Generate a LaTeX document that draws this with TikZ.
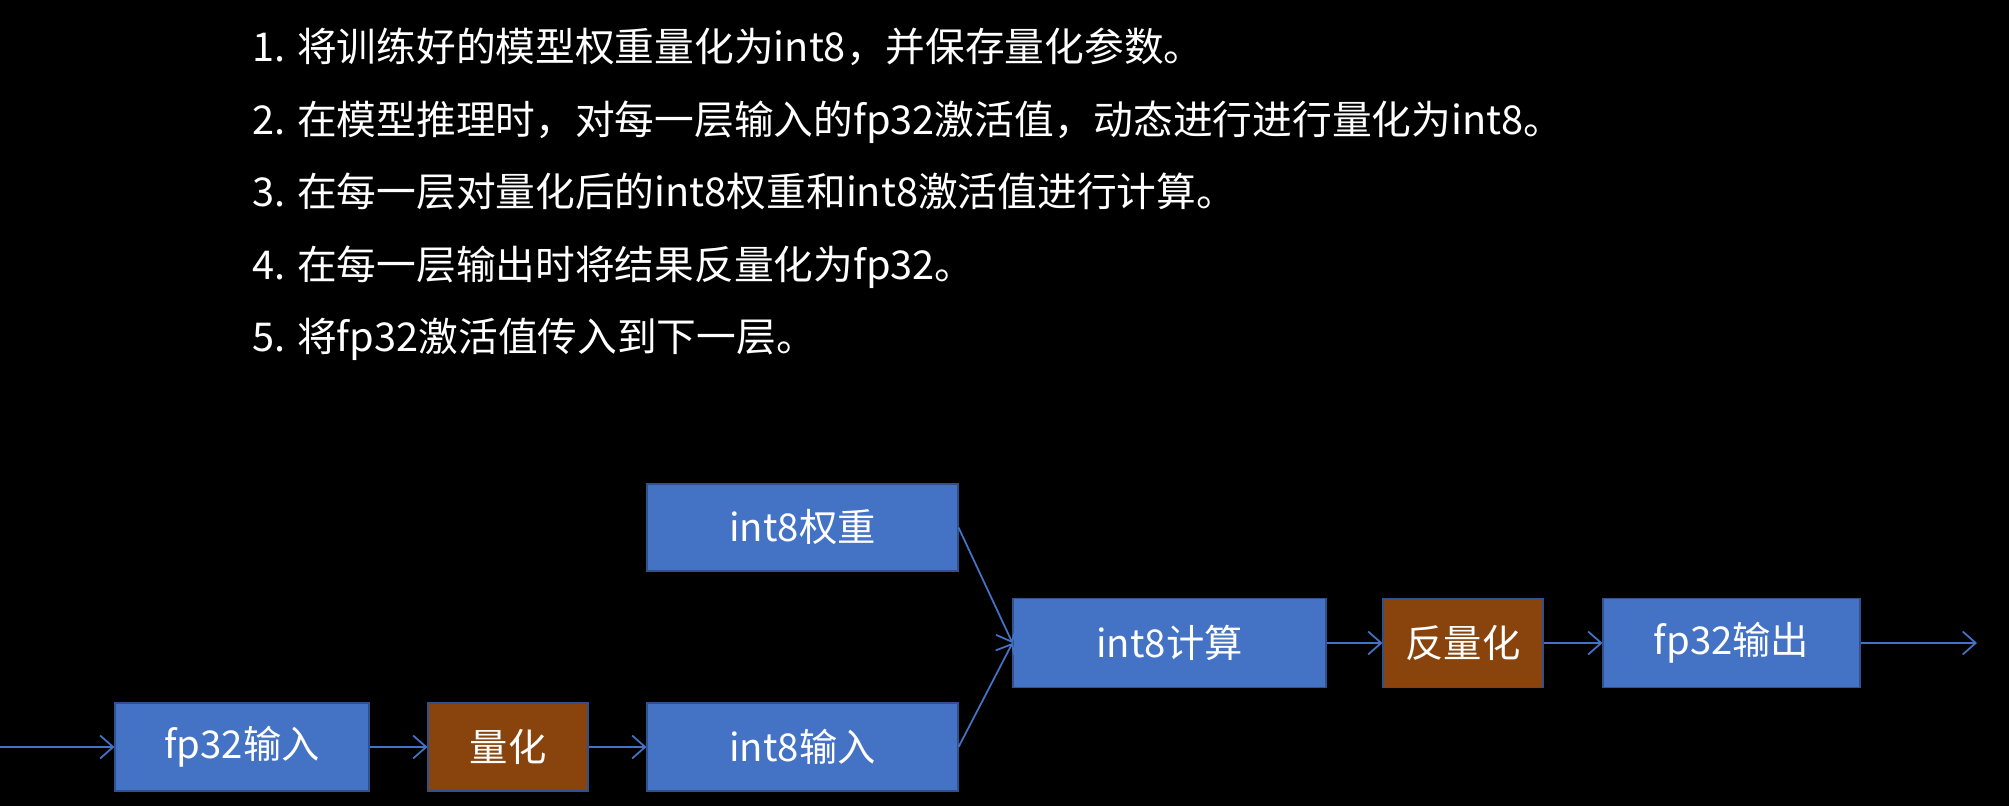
\documentclass[tikz,border=0pt]{standalone}
\usepackage{fontspec}
\newfontfamily\cjk{Noto Sans CJK SC}
\usetikzlibrary{arrows.meta}

\definecolor{boxblue}{RGB}{68,114,196}
\definecolor{boxedge}{RGB}{47,82,143}
\definecolor{quantbrown}{RGB}{136,68,12}

\begin{document}
\begin{tikzpicture}[
  font=\cjk\fontsize{21.8}{26}\selectfont,
  >={Straight Barb[length=2.6mm, width=4.6mm]},
  blk/.style={rectangle, draw=boxedge, line width=0.6pt, fill=boxblue,
              text=white, minimum height=1.76cm, inner sep=0pt},
  qbk/.style={blk, fill=quantbrown},
  flow/.style={->, line width=1pt, draw=boxblue},
  txt/.style={anchor=base west, text=white, inner sep=0pt,
              font=\cjk\fontsize{22.6}{26}\selectfont},
]
% --- fondo ---
\fill[black] (0,0) rectangle (40.18,-16.12);
\useasboundingbox (0,0) rectangle (40.18,-16.12);

% --- pasos ---
\node[txt] (s1) at (5.04,-1.24) {1. 将训练好的模型权重量化为int8，并保存量化参数。};
\node[txt] (s2) at (5.04,-2.69) {2. 在模型推理时，对每一层输入的fp32激活值，动态进行进行量化为int8。};
\node[txt] (s3) at (5.04,-4.14) {3. 在每一层对量化后的int8权重和int8激活值进行计算。};
\node[txt] (s4) at (5.04,-5.59) {4. 在每一层输出时将结果反量化为fp32。};
\node[txt] (s5) at (5.04,-7.04) {5. 将fp32激活值传入到下一层。};

% --- bloques ---
\node[blk, minimum width=5.08cm] (fpin)  at (4.84,-14.94)  {fp32输入};
\node[qbk, minimum width=3.2cm]  (qnt)   at (10.16,-14.94) {量化};
\node[blk, minimum width=6.22cm] (i8in)  at (16.05,-14.94) {int8输入};
\node[blk, minimum width=6.22cm, minimum height=1.74cm]
                                 (i8w)   at (16.05,-10.55) {int8权重};
\node[blk, minimum width=6.26cm, minimum height=1.78cm]
                                 (calc)  at (23.39,-12.86) {int8计算};
\node[qbk, minimum width=3.2cm, minimum height=1.78cm]
                                 (dqnt)  at (29.26,-12.86) {反量化};
\node[blk, minimum width=5.14cm, minimum height=1.78cm]
                                 (fpout) at (34.63,-12.86) {fp32输出};

\coordinate (src) at (0,-14.94);
\coordinate (dst) at (39.54,-12.86);

% --- conexiones ---
\draw[flow] (src) -- (fpin);
\draw[flow] (fpin) -- (qnt);
\draw[flow] (qnt) -- (i8in);
\draw[flow] (i8w.east) -- (calc.west);
\draw[flow] (i8in.east) -- (calc.west);
\draw[flow] (calc) -- (dqnt);
\draw[flow] (dqnt) -- (fpout);
\draw[flow] (fpout) -- (dst);
\end{tikzpicture}
\end{document}
